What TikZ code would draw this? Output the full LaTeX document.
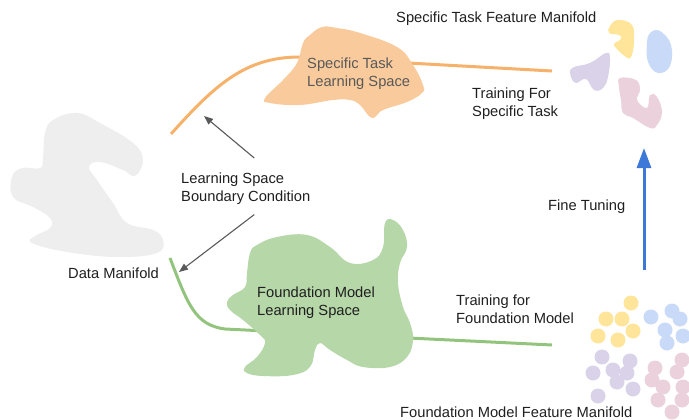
\documentclass[tikz,border=0pt]{standalone}
\usepackage{fontspec}
\setmainfont{Liberation Sans}
\usetikzlibrary{arrows.meta}

\definecolor{orangeline}{HTML}{F6B26B}
\definecolor{orangefill}{HTML}{F9CB9C}
\definecolor{greenline}{HTML}{93C47D}
\definecolor{greenfill}{HTML}{B6D7A8}
\definecolor{greyfill}{HTML}{EEEEEE}
\definecolor{darkgrey}{HTML}{595959}
\definecolor{blueline}{HTML}{3C78D8}
\definecolor{yellowfeat}{HTML}{FFE599}
\definecolor{bluefeat}{HTML}{C9DAF8}
\definecolor{purplefeat}{HTML}{D9D2E9}
\definecolor{pinkfeat}{HTML}{EAD1DC}

\begin{document}
\begin{tikzpicture}[x=1pt,y=-1pt,
 every node/.style={font=\fontsize{14.7}{18}\selectfont,inner sep=0pt,align=left,anchor=north west,text=black!88},
 space line/.style={line width=3pt},
 grey arrow/.style={darkgrey,line width=1.1pt,-{Triangle[length=9pt,width=7pt]}},
 blob/.style={smooth cycle,tension=0.7}]

  \useasboundingbox (0,0) rectangle (689,420);

  \coordinate (orangetip) at (204,116);
  \coordinate (greentip) at (179,272);
  \coordinate (dotstop) at (644,270);
  \coordinate (shapesbot) at (644,148);

  \draw[space line,orangeline] (171,134) .. controls (215,85) and (245,57) .. (300,57) -- (552,71);
  \draw[space line,greenline] (170,258) .. controls (188,305) and (195,325) .. (225,329) -- (552,345);

  \fill[greyfill] plot[blob] coordinates {(45,133) (53,120) (77,113) (100,123) (133,143) (143,160) (135,176) (123,170) (100,162) (89,167) (97,180) (113,203) (127,223) (153,230) (163,240) (157,253) (117,257) (67,252) (32,243) (35,236) (50,228) (50,218) (33,207) (13,197) (12,177) (22,168) (40,168) (43,157)};
  \fill[orangefill] plot[blob] coordinates {(310,35) (322,27) (337,28) (360,33) (397,47) (413,65) (423,85) (422,93) (407,102) (383,110) (372,118) (360,105) (350,100) (333,100) (300,105) (270,103) (265,98) (283,80) (297,63) (303,43)};
  \fill[greenfill] plot[blob] coordinates {(250,253) (247,273) (245,287) (233,295) (227,302) (230,310) (243,320) (260,335) (265,343) (257,357) (245,367) (247,373) (263,376) (293,375) (310,367) (315,350) (320,343) (330,350) (347,360) (363,367) (390,367) (407,357) (413,340) (410,323) (403,307) (398,283) (400,263) (407,247) (403,230) (393,220) (385,223) (383,247) (373,260) (350,263) (330,247) (307,235) (277,237) (257,245)};

  \fill[yellowfeat] plot[blob] coordinates {(610,26) (618,20) (632,25) (634,42) (631,57) (626,57) (617,49) (614,44) (621,39) (619,35) (609,33)};
  \fill[bluefeat] plot[blob] coordinates {(650,33) (660,31) (671,45) (670,66) (658,73) (648,62) (647,43)};
  \fill[purplefeat] plot[blob] coordinates {(572,68) (590,63) (606,53) (610,58) (608,77) (603,88) (594,90) (586,79) (576,83) (571,77)};
  \fill[pinkfeat] plot[blob] coordinates {(620,78) (636,80) (640,90) (637,100) (647,108) (650,95) (657,97) (662,112) (657,125) (650,128) (633,118) (623,113) (621,100) (619,87)};

  \foreach \x/\y in {631/303, 606/319, 622/319, 633/331, 598/336, 618/340}
   \fill[yellowfeat] (\x,\y) circle (7.5);
  \foreach \x/\y in {651/317, 672/311, 680/319, 665/330, 683/336, 667/343}
   \fill[bluefeat] (\x,\y) circle (7.5);
  \foreach \x/\y in {602/357, 630/361, 593/373, 613/370, 627/373, 617/382, 633/389, 598/396}
   \fill[purplefeat] (\x,\y) circle (7.5);
  \foreach \x/\y in {655/368, 682/360, 652/380, 677/372, 663/387, 683/387, 658/400, 682/400, 672/412}
   \fill[pinkfeat] (\x,\y) circle (7.5);

  \node (taskmf) at (396,11.5) {Specific Task Feature Manifold};
  \node[text=darkgrey] (taskls) at (307,57.5) {Specific Task\\Learning Space};
  \node (tasktr) at (472,87.5) {Training For\\Specific Task};
  \node (bound) at (181,172.5) {Learning Space\\Boundary Condition};
  \node (tune) at (548,199.5) {Fine Tuning};
  \node (datamf) at (68,267.5) {Data Manifold};
  \node (foundls) at (257,286.5) {Foundation Model\\Learning Space};
  \node (foundtr) at (456,294.5) {Training for\\Foundation Model};
  \node (foundmf) at (400,406.5) {Foundation Model Feature Manifold};

  \draw[grey arrow] ([xshift=8.5pt,yshift=14.5pt]bound.north) -- (orangetip);
  \draw[grey arrow] ([xshift=8.5pt,yshift=-10pt]bound.south) -- (greentip);
  \draw[blueline,line width=3pt,-{Triangle[length=20pt,width=14pt]}] (dotstop) -- (shapesbot);
\end{tikzpicture}
\end{document}
